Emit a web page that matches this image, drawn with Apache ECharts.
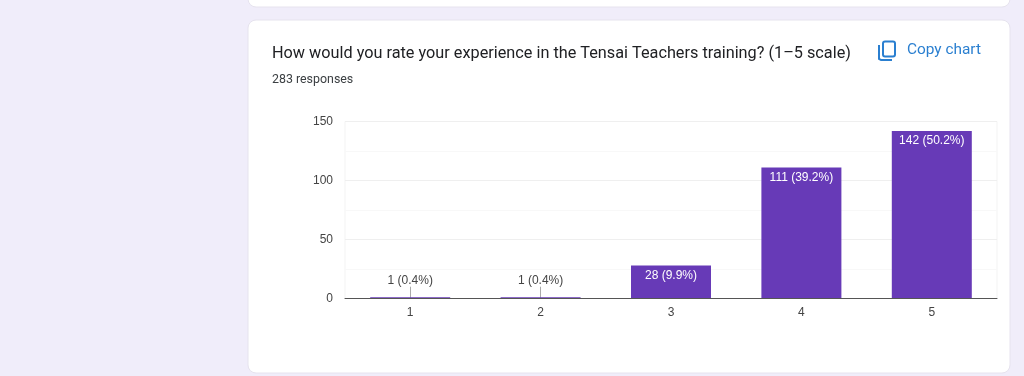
<!DOCTYPE html>
<html>
<head>
<meta charset="utf-8">
<style>
  html, body { margin: 0; padding: 0; background: #f0edfa; }
  #chart { width: 1024px; height: 376px; }
</style>
<script src="https://cdn.jsdelivr.net/npm/echarts@6/dist/echarts.min.js"></script>
</head>
<body>
<div id="chart"></div>
<script>
var categories = ['1', '2', '3', '4', '5'];
var counts = [1, 1, 28, 111, 142];
var percents = ['0.4', '0.4', '9.9', '39.2', '50.2'];
var questionTitle = 'How would you rate your experience in the Tensai Teachers training? (1\u20135 scale)';
var responsesText = '283 responses';
var copyText = 'Copy chart';

var chart = echarts.init(document.getElementById('chart'));

// bars under 10 get the label above, with a small leader line
var barData = counts.map(function (v, i) {
  var small = v < 10;
  return {
    value: v,
    label: {
      show: true,
      formatter: v + ' (' + percents[i] + '%)',
      position: small ? 'top' : 'insideTop',
      distance: small ? 11 : 4,
      color: small ? '#444444' : '#ffffff'
    }
  };
});

var leaderLines = [];
counts.forEach(function (v, i) {
  if (v < 10) {
    leaderLines.push([
      { xAxis: categories[i], yAxis: 0 },
      { xAxis: categories[i], yAxis: 10 }
    ]);
  }
});

var option = {
  animation: false,
  backgroundColor: '#f0edfa',
  textStyle: { fontFamily: 'Liberation Sans' },
  title: [
    {
      text: questionTitle, left: 267, top: 41,
      textStyle: { fontFamily: 'Roboto', fontSize: 16.25, fontWeight: 400, color: '#202124' }
    },
    {
      text: responsesText, left: 267, top: 69,
      textStyle: { fontFamily: 'Roboto', fontSize: 12.4, fontWeight: 400, color: '#3c4043' }
    },
    {
      text: copyText, left: 902, top: 38,
      textStyle: { fontFamily: 'Roboto', fontSize: 15.4, fontWeight: 400, color: '#2a7fd0' }
    }
  ],
  grid: {
    left: 345, top: 121.5, width: 652, height: 177,
    show: true, borderColor: '#f3f3f3', borderWidth: 1, z: 0
  },
  xAxis: {
    type: 'category',
    data: categories,
    z: 6,
    axisLine: { lineStyle: { color: '#555555', width: 1 } },
    axisTick: { show: false },
    axisLabel: { color: '#444444', fontSize: 12, margin: 8 }
  },
  yAxis: {
    type: 'value',
    min: 0,
    max: 150,
    interval: 50,
    axisLine: { show: false },
    axisTick: { show: false },
    axisLabel: { color: '#444444', fontSize: 12, margin: 12, padding: [4, 0, 0, 0] },
    splitLine: { lineStyle: { color: '#efefef' } },
    minorTick: { show: false, splitNumber: 2 },
    minorSplitLine: { show: true, lineStyle: { color: '#f8f8f8' } }
  },
  series: [
    {
      type: 'bar',
      data: barData,
      barWidth: 80,
      z: 5,
      itemStyle: { color: '#673ab7' },
      label: { fontSize: 12 },
      markLine: {
        silent: true,
        symbol: 'none',
        label: { show: false },
        lineStyle: { color: '#aaaaaa', width: 1, type: 'solid' },
        data: leaderLines
      }
    }
  ],
  graphic: [
    // upper card edge and main card
    { type: 'rect', z: -10, shape: { x: 248, y: -20, width: 762, height: 27, r: 8 },
      style: { fill: '#ffffff', stroke: '#e6e3ee', lineWidth: 1 } },
    { type: 'rect', z: -10, shape: { x: 248, y: 20, width: 762, height: 353, r: 8 },
      style: { fill: '#ffffff', stroke: '#e6e3ee', lineWidth: 1 } },
    // copy icon
    { type: 'rect', z: 10, shape: { x: 883, y: 41.5, width: 12, height: 15, r: 2 },
      style: { fill: 'none', stroke: '#2a7fd0', lineWidth: 2 } },
    { type: 'polyline', z: 10, shape: { points: [[879, 45], [879, 59], [881, 60], [892, 60]] },
      style: { fill: 'none', stroke: '#2a7fd0', lineWidth: 2 } }
  ]
};

chart.setOption(option);
</script>
</body>
</html>
